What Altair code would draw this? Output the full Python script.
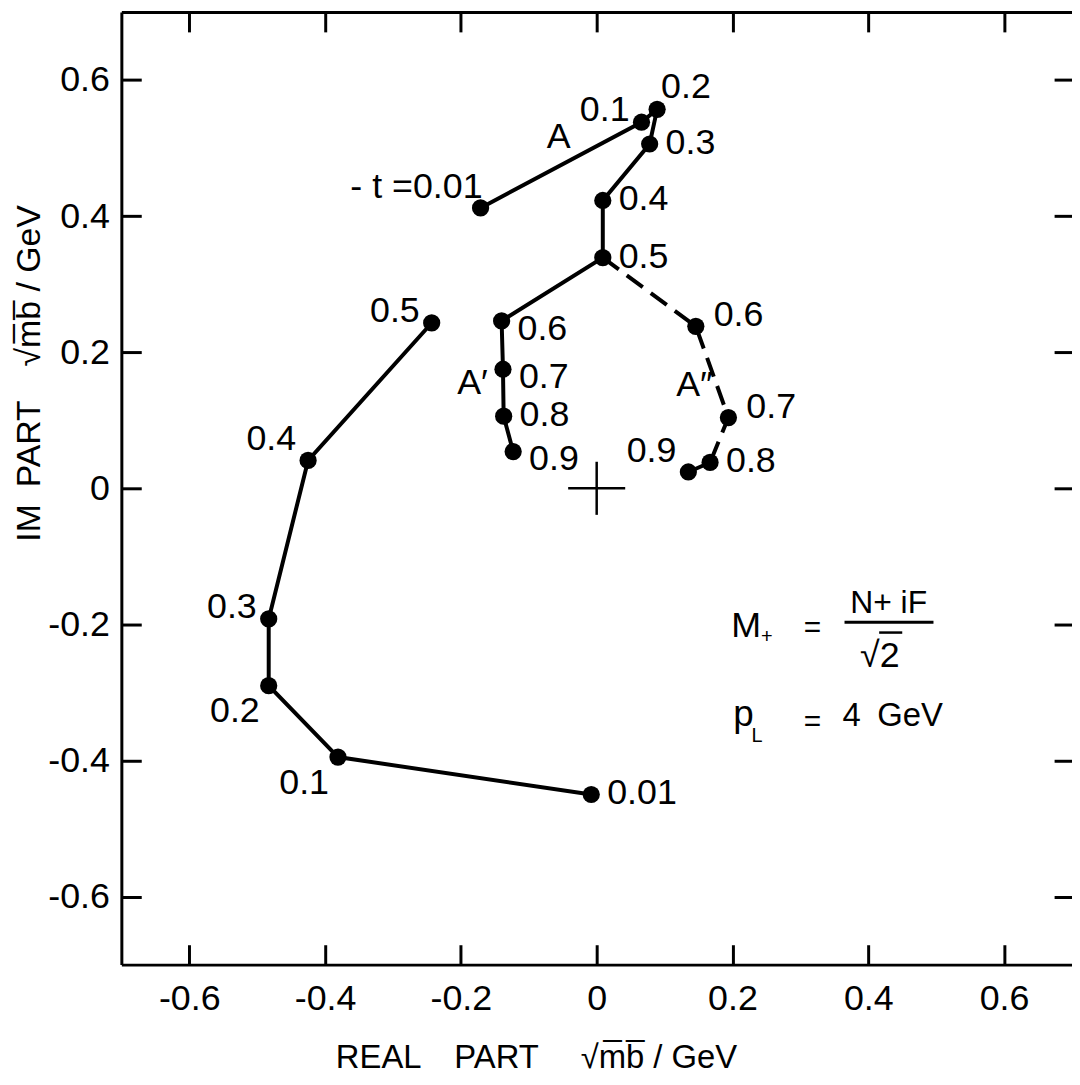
import altair as alt
import pandas as pd

# ---------------- data ----------------
# lower curve (solid)
low_t = ["0.01", "0.1", "0.2", "0.3", "0.4", "0.5"]
low_re = [-0.008, -0.381, -0.483, -0.483, -0.425, -0.243]
low_im = [-0.450, -0.395, -0.290, -0.192, 0.041, 0.243]
low_pos = ["E", "SW", "SW", "W", "NW", "W"]

# upper curve A then A' (solid)
up_t = ["- t =0.01", "0.1", "0.2", "0.3", "0.4", "0.5", "0.6", "0.7", "0.8", "0.9"]
up_re = [-0.171, 0.066, 0.089, 0.078, 0.009, 0.009, -0.140, -0.138, -0.137, -0.123]
up_im = [0.412, 0.538, 0.557, 0.506, 0.423, 0.339, 0.246, 0.175, 0.106, 0.054]
up_pos = ["NNW", "W", "N", "E", "E", "E", "ESE", "ESE", "E", "ESE"]

# branch A'' (dashed), starting from the 0.5 point of A
dash_t = ["0.6", "0.7", "0.8", "0.9"]
dash_re = [0.146, 0.194, 0.167, 0.135]
dash_im = [0.238, 0.104, 0.038, 0.024]
dash_pos = ["NE", "NE", "E", "NW"]

# curve names
name_txt = ["A", "A\u2032", "A\u2033"]
name_re = [-0.056, -0.183, 0.144]
name_im = [0.516, 0.155, 0.151]

# cross at the origin
cross_x = [-0.042, 0.0]
cross_x2 = [0.042, 0.0]
cross_y = [0.0, -0.039]
cross_y2 = [0.0, 0.039]

# formula annotation
ann_txt = ["M", "+", "=", "p", "L", "=", "4\u2002GeV"]
ann_re = [0.198, 0.242, 0.305, 0.201, 0.228, 0.305, 0.362]
ann_im = [-0.219, -0.227, -0.219, -0.349, -0.373, -0.357, -0.349]
ann_fs = [36, 20, 30, 37, 20, 30, 33]
frac_txt = ["N+ iF", "\u221a2"]
frac_re = [0.430, 0.417]
frac_im = [-0.183, -0.262]
frac_fs = [32, 36]
bar_re = [0.365, 0.416]
bar_re2 = [0.496, 0.450]
bar_im = [-0.197, -0.212]
bar_w = [3, 2.5]

TICKS = [-0.6, -0.4, -0.2, 0, 0.2, 0.4, 0.6]
X_DOM = [-0.7, 0.7]
Y_DOM = [-0.7, 0.7]

FONT = "Liberation Sans, Arial, sans-serif"

# ---------------- tables ----------------
line_df = pd.concat([
    pd.DataFrame({"re": up_re, "im": up_im, "series": "A", "order": range(len(up_re))}),
    pd.DataFrame({"re": [up_re[5]] + dash_re, "im": [up_im[5]] + dash_im,
                  "series": "A2", "order": range(len(dash_re) + 1)}),
    pd.DataFrame({"re": low_re, "im": low_im, "series": "low", "order": range(len(low_re))}),
], ignore_index=True)

pts_df = pd.DataFrame({
    "re": up_re + dash_re + low_re,
    "im": up_im + dash_im + low_im,
    "lab": up_t + dash_t + low_t,
    "pos": up_pos + dash_pos + low_pos,
})

cross_df = pd.DataFrame({"x": cross_x, "x2": cross_x2, "y": cross_y, "y2": cross_y2})
name_df = pd.DataFrame({"re": name_re, "im": name_im, "t": name_txt})
ann_df = pd.DataFrame({"re": ann_re, "im": ann_im, "t": ann_txt, "fs": ann_fs})
frac_df = pd.DataFrame({"re": frac_re, "im": frac_im, "t": frac_txt, "fs": frac_fs})
bar_df = pd.DataFrame({"x": bar_re, "x2": bar_re2, "y": bar_im, "w": bar_w})

# ---------------- axes ----------------
LBL = "datum.value == 0 ? '0' : (datum.value < 0 ? '-' : '') + format(abs(datum.value), '.1f')"

x_main = alt.Axis(orient="bottom", values=TICKS, ticks=False, domain=True, domainColor="black",
                  domainWidth=3, labels=True, labelFont=FONT, labelFontSize=36, labelColor="black",
                  labelPadding=17, labelExpr=LBL, labelFlush=False, grid=False,
                  title="REAL\u2003PART\u2003 \u221am\u0305b\u0305 / GeV", titleFont=FONT,
                  titleFontSize=33, titleFontWeight="normal", titleColor="black",
                  titleX=417, titleY=93, titleBaseline="middle", titleAlign="center")
y_main = alt.Axis(orient="left", values=TICKS, ticks=False, domain=True, domainColor="black",
                  domainWidth=3, labels=True, labelFont=FONT, labelFontSize=36, labelColor="black",
                  labelPadding=12, labelExpr=LBL, labelFlush=False, grid=False,
                  title="IM\u2002PART\u2003\u221am\u0305b\u0305 / GeV", titleFont=FONT,
                  titleFontSize=34, titleFontWeight="normal", titleColor="black",
                  titleX=-92, titleY=363, titleAngle=270, titleBaseline="middle", titleAlign="center")


def tick_axis(orient, size):
    return alt.Axis(orient=orient, offset=-size, values=TICKS, domain=False, labels=False,
                    ticks=True, tickSize=size, tickWidth=3, tickColor="black", grid=False, title=None)


x_top_dom = alt.Axis(orient="top", values=TICKS, domain=True, domainColor="black", domainWidth=3,
                     labels=False, ticks=False, grid=False, title=None)

xs = alt.Scale(domain=X_DOM, nice=False, zero=False)
ys = alt.Scale(domain=Y_DOM, nice=False, zero=False)

# ---------------- layers ----------------
solid = alt.Chart(line_df).transform_filter(alt.datum.series != "A2").mark_line(
    color="black", strokeWidth=4).encode(
    x=alt.X("re:Q", scale=xs, axis=x_main),
    y=alt.Y("im:Q", scale=ys, axis=y_main),
    detail="series:N", order="order:Q")

dashed = alt.Chart(line_df).transform_filter(alt.datum.series == "A2").mark_line(
    color="black", strokeWidth=4, strokeDash=[20, 10]).encode(
    x=alt.X("re:Q", scale=xs, axis=x_top_dom),
    y=alt.Y("im:Q", scale=ys, axis=tick_axis("right", 18)),
    order="order:Q")

points = alt.Chart(pts_df).mark_circle(color="black", opacity=1, size=300).encode(
    x=alt.X("re:Q", scale=xs, axis=tick_axis("bottom", 20)),
    y=alt.Y("im:Q", scale=ys, axis=tick_axis("left", 20)))

cross = alt.Chart(cross_df).mark_rule(color="black", strokeWidth=2.5).encode(
    x=alt.X("x:Q", scale=xs, axis=tick_axis("top", 20)), x2="x2:Q",
    y=alt.Y("y:Q", scale=ys, axis=None), y2="y2:Q")

PLACE = {
    "E": ("left", 16, -1),
    "ESE": ("left", 16, 8),
    "NE": ("left", 18, -11),
    "N": ("left", 4, -22),
    "W": ("right", -12, -12),
    "NW": ("right", -12, -21),
    "NNW": ("right", 2, -21),
    "SW": ("right", -9, 26),
}

label_layers = []
for key, (al, dx, dy) in PLACE.items():
    label_layers.append(
        alt.Chart(pts_df).transform_filter(alt.datum.pos == key).mark_text(
            font=FONT, fontSize=36, color="black", align=al, baseline="middle", dx=dx, dy=dy).encode(
            x=alt.X("re:Q", scale=xs, axis=None),
            y=alt.Y("im:Q", scale=ys, axis=None),
            text="lab:N"))

names = alt.Chart(name_df).mark_text(font=FONT, fontSize=36, color="black", align="center",
                                     baseline="middle").encode(
    x=alt.X("re:Q", scale=xs, axis=None), y=alt.Y("im:Q", scale=ys, axis=None), text="t:N")

ann = alt.Chart(ann_df).mark_text(font=FONT, color="black", align="left", baseline="alphabetic").encode(
    x=alt.X("re:Q", scale=xs, axis=None), y=alt.Y("im:Q", scale=ys, axis=None), text="t:N",
    size=alt.Size("fs:Q", scale=None))

frac = alt.Chart(frac_df).mark_text(font=FONT, color="black", align="center", baseline="alphabetic").encode(
    x=alt.X("re:Q", scale=xs, axis=None), y=alt.Y("im:Q", scale=ys, axis=None), text="t:N",
    size=alt.Size("fs:Q", scale=None))

bar = alt.Chart(bar_df).mark_rule(color="black").encode(
    x=alt.X("x:Q", scale=xs, axis=None), x2="x2:Q", y=alt.Y("y:Q", scale=ys, axis=None),
    strokeWidth=alt.StrokeWidth("w:Q", scale=None))

chart = alt.layer(solid, dashed, points, cross, *label_layers, names, ann, frac, bar).resolve_axis(
    x="independent", y="independent").properties(
    width=956, height=958,
    autosize=alt.AutoSizeParams(type="none"),
    padding={"left": 114, "top": 1, "right": 0, "bottom": 110},
).configure_view(stroke=None).configure(background="white")

chart.save("out.html", embed_options={"renderer": "svg", "actions": False})
